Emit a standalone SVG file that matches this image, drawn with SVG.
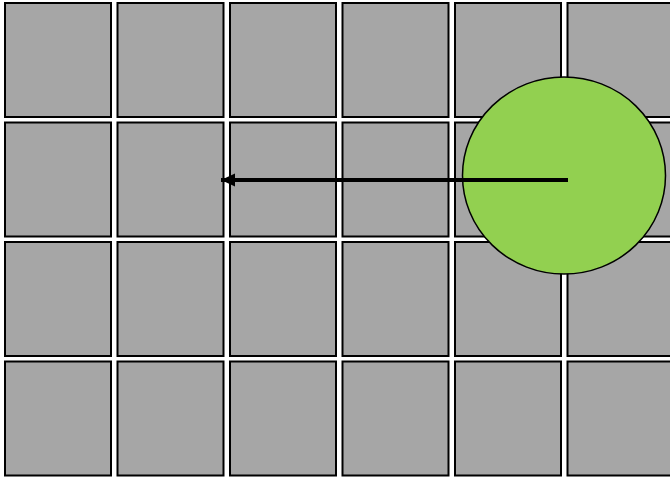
<svg xmlns="http://www.w3.org/2000/svg" width="670" height="477" viewBox="0 0 670 477">
<style>
.cell{fill:#a6a6a6;stroke:#000;stroke-width:2}
.ball{fill:#92d050;stroke:#000;stroke-width:1.5}
.arrow{stroke:#000;stroke-width:4;fill:none}
</style>
<defs>
<marker id="ah" markerWidth="4" markerHeight="4" refX="3.5" refY="2" orient="auto" markerUnits="strokeWidth">
<path d="M0,0.4 L3.5,2 L0,3.6 z" fill="#000"/>
</marker>
</defs>
<rect width="670" height="477" fill="#fff"/>
<g id="grid">
<g id="r0">
<rect class="cell" x="5" y="3" width="106" height="114"/>
<rect class="cell" x="117.5" y="3" width="106" height="114"/>
<rect class="cell" x="230" y="3" width="106" height="114"/>
<rect class="cell" x="342.5" y="3" width="106" height="114"/>
<rect class="cell" x="455" y="3" width="106" height="114"/>
<rect class="cell" x="567.5" y="3" width="106" height="114"/>
</g>
<g id="r1">
<rect class="cell" x="5" y="122.5" width="106" height="114"/>
<rect class="cell" x="117.5" y="122.5" width="106" height="114"/>
<rect class="cell" x="230" y="122.5" width="106" height="114"/>
<rect class="cell" x="342.5" y="122.5" width="106" height="114"/>
<rect class="cell" x="455" y="122.5" width="106" height="114"/>
<rect class="cell" x="567.5" y="122.5" width="106" height="114"/>
</g>
<g id="r2">
<rect class="cell" x="5" y="242" width="106" height="114"/>
<rect class="cell" x="117.5" y="242" width="106" height="114"/>
<rect class="cell" x="230" y="242" width="106" height="114"/>
<rect class="cell" x="342.5" y="242" width="106" height="114"/>
<rect class="cell" x="455" y="242" width="106" height="114"/>
<rect class="cell" x="567.5" y="242" width="106" height="114"/>
</g>
<g id="r3">
<rect class="cell" x="5" y="361.5" width="106" height="114"/>
<rect class="cell" x="117.5" y="361.5" width="106" height="114"/>
<rect class="cell" x="230" y="361.5" width="106" height="114"/>
<rect class="cell" x="342.5" y="361.5" width="106" height="114"/>
<rect class="cell" x="455" y="361.5" width="106" height="114"/>
<rect class="cell" x="567.5" y="361.5" width="106" height="114"/>
</g>
</g>
<g id="ball">
<ellipse class="ball" cx="564" cy="175.5" rx="101.5" ry="98.5"/>
</g>
<g id="connectors">
<line class="arrow" x1="568" y1="180" x2="221" y2="180" marker-end="url(#ah)"/>
</g>
</svg>
